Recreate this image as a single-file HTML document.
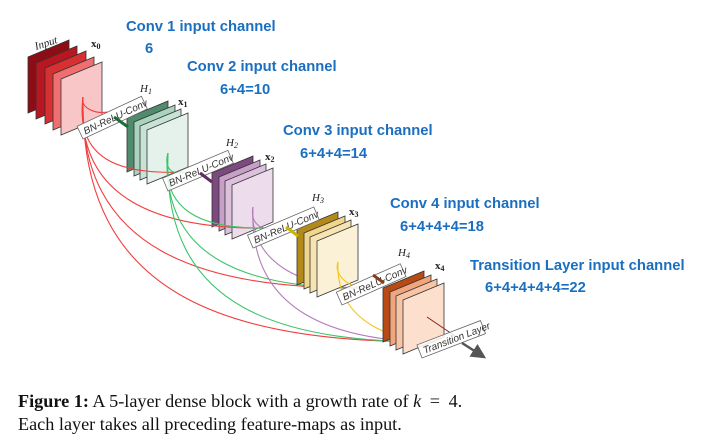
<!DOCTYPE html>
<html><head><meta charset="utf-8"><style>
html,body{margin:0;padding:0;background:#fff;}
svg{display:block;}
.b{font-family:"Liberation Sans",sans-serif;font-weight:bold;font-size:14.8px;fill:#1a6fc0;}
.bx{font-family:"Liberation Sans",sans-serif;font-style:italic;font-size:10px;fill:#333;}
.h{font-family:"Liberation Serif",serif;font-style:italic;font-size:11px;fill:#222;}
.x{font-family:"Liberation Serif",serif;font-weight:bold;font-size:11px;fill:#222;}
.cap{font-family:"Liberation Serif",serif;font-size:18.2px;fill:#111;}
</style></head><body>
<svg width="702" height="440" viewBox="0 0 702 440" xmlns="http://www.w3.org/2000/svg">
<defs>
<marker id="ah" markerWidth="6" markerHeight="6" refX="5" refY="3" orient="auto"><path d="M0,0 L6,3 L0,6 z" fill="#555"/></marker>
</defs>

<g stroke="#333" stroke-width="0.8">
<polygon points="28,57 69,40 69,96 28,113" fill="#8e0c16"/>
<polygon points="36,63 77,46 77,102 36,119" fill="#b81620"/>
<polygon points="45,68 86,51 86,107 45,124" fill="#d63033"/>
<polygon points="53,74 94,57 94,113 53,130" fill="#ef6f70"/>
<polygon points="61,79 102,62 102,118 61,135" fill="#f8c6c6"/>
<polygon points="127,118 168,101 168,155 127,172" fill="#4f8b6c"/>
<polygon points="134,122 175,105 175,159 134,176" fill="#a9d3be"/>
<polygon points="140,126 181,109 181,163 140,180" fill="#c6e3d5"/>
<polygon points="147,130 188,113 188,167 147,184" fill="#e4f2eb"/>
<polygon points="212,173 253,156 253,210 212,227" fill="#7d4a80"/>
<polygon points="219,177 260,160 260,214 219,231" fill="#c7a0c8"/>
<polygon points="225,181 266,164 266,218 225,235" fill="#dcc0dc"/>
<polygon points="232,185 273,168 273,222 232,239" fill="#ecdcec"/>
</g>

<g fill="none" stroke-width="1.1">
<g stroke="#f23d3d">
<path d="M83,97 C80,108 95,114 107,112"/>
<path d="M83,97 C75,160 120,175 185,172"/>
<path d="M83,97 C75,200 160,230 270,228"/>
<path d="M83,97 C78,250 200,290 370,288"/>
<path d="M83,97 C80,300 230,345 455,342"/>
</g>
<g stroke="#3cc46a">
<path d="M168,153 C163,170 175,176 185,172"/>
<path d="M168,153 C160,210 200,230 270,228"/>
<path d="M168,153 C160,260 250,290 370,288"/>
<path d="M168,153 C162,310 280,345 455,342"/>
</g>
<g stroke="#b47cbc">
<path d="M253,207 C250,222 260,230 270,228"/>
<path d="M253,207 C248,260 300,290 370,288"/>
<path d="M253,207 C248,310 330,345 455,342"/>
</g>
</g>

<g stroke="#333" stroke-width="0.8">
<polygon points="297,229 338,212 338,268 297,285" fill="#b38a1a"/>
<polygon points="304,233 345,216 345,272 304,289" fill="#f0d58c"/>
<polygon points="310,237 351,220 351,276 310,293" fill="#f6e4b2"/>
<polygon points="317,241 358,224 358,280 317,297" fill="#fbf1d6"/>
</g>
<g fill="none" stroke-width="1.1">
<path stroke="#f5c518" d="M338,262 C333,275 350,290 370,288"/>
<path stroke="#f5c518" d="M338,262 C335,320 390,345 455,342"/>
</g>
<g stroke="#333" stroke-width="0.8">
<polygon points="383,288 424,271 424,325 383,342" fill="#b84a16"/>
<polygon points="390,292 431,275 431,329 390,346" fill="#f2a57c"/>
<polygon points="396,296 437,279 437,333 396,350" fill="#f7c4a6"/>
<polygon points="403,300 444,283 444,337 403,354" fill="#fcdfcd"/>
</g>
<path d="M427,317 L455,336" stroke="#8b2020" stroke-width="1"/>

<g transform="translate(83,139) rotate(-25)"><rect x="0" y="-14" width="71" height="14" fill="#fff" stroke="#666" stroke-width="0.8"/><text class="bx" x="4" y="-3">BN-ReLU-Conv</text></g>
<g transform="translate(168,191) rotate(-23)"><rect x="0" y="-14" width="71" height="14" fill="#fff" fill-opacity="0.85" stroke="#666" stroke-width="0.8"/><text class="bx" x="4" y="-3">BN-ReLU-Conv</text></g>
<g transform="translate(253,248) rotate(-23)"><rect x="0" y="-14" width="72" height="14" fill="#fff" fill-opacity="0.85" stroke="#666" stroke-width="0.8"/><text class="bx" x="4" y="-3">BN-ReLU-Conv</text></g>
<g transform="translate(342,305) rotate(-24)"><rect x="0" y="-14" width="70" height="14" fill="#fff" fill-opacity="0.85" stroke="#666" stroke-width="0.8"/><text class="bx" x="4" y="-3">BN-ReLU-Conv</text></g>
<g transform="translate(422,358) rotate(-21)"><rect x="0" y="-14" width="68" height="14" fill="#fff" fill-opacity="0.85" stroke="#666" stroke-width="0.8"/><text class="bx" x="4" y="-3">Transition Layer</text></g>

<g stroke-width="3">
<line x1="114" y1="117" x2="128" y2="127" stroke="#1e6b3a"/>
<line x1="200" y1="173" x2="212" y2="182" stroke="#5e2d62"/>
<line x1="286" y1="227" x2="298" y2="236" stroke="#c9b400"/>
<line x1="373" y1="275" x2="384" y2="283" stroke="#8b3a18"/>
</g>
<line x1="462" y1="343" x2="484" y2="357" stroke="#555" stroke-width="2.5" marker-end="url(#ah)"/>

<text class="h" transform="translate(36,50) rotate(-18)">Input</text>
<text class="x" x="91" y="47">x<tspan font-size="8" dy="2">0</tspan></text>
<text class="h" x="140" y="92">H<tspan font-size="8" dy="2">1</tspan></text>
<text class="x" x="178" y="105">x<tspan font-size="8" dy="2">1</tspan></text>
<text class="h" x="226" y="146">H<tspan font-size="8" dy="2">2</tspan></text>
<text class="x" x="265" y="160">x<tspan font-size="8" dy="2">2</tspan></text>
<text class="h" x="312" y="201">H<tspan font-size="8" dy="2">3</tspan></text>
<text class="x" x="349" y="215">x<tspan font-size="8" dy="2">3</tspan></text>
<text class="h" x="398" y="256">H<tspan font-size="8" dy="2">4</tspan></text>
<text class="x" x="435" y="269">x<tspan font-size="8" dy="2">4</tspan></text>

<text class="b" x="126" y="31">Conv 1 input channel</text>
<text class="b" x="145" y="53">6</text>
<text class="b" x="187" y="71">Conv 2 input channel</text>
<text class="b" x="220" y="94">6+4=10</text>
<text class="b" x="283" y="135">Conv 3 input channel</text>
<text class="b" x="300" y="158">6+4+4=14</text>
<text class="b" x="390" y="208">Conv 4 input channel</text>
<text class="b" x="400" y="231">6+4+4+4=18</text>
<text class="b" x="470" y="270">Transition Layer input channel</text>
<text class="b" x="485" y="292">6+4+4+4+4=22</text>

<text class="cap" x="18" y="407"><tspan font-weight="bold">Figure 1:</tspan> A 5-layer dense block with a growth rate of <tspan font-style="italic">k</tspan> <tspan dx="4">=</tspan> <tspan dx="4">4.</tspan></text>
<text class="cap" x="18" y="430">Each layer takes all preceding feature-maps as input.</text>
</svg>
</body></html>
